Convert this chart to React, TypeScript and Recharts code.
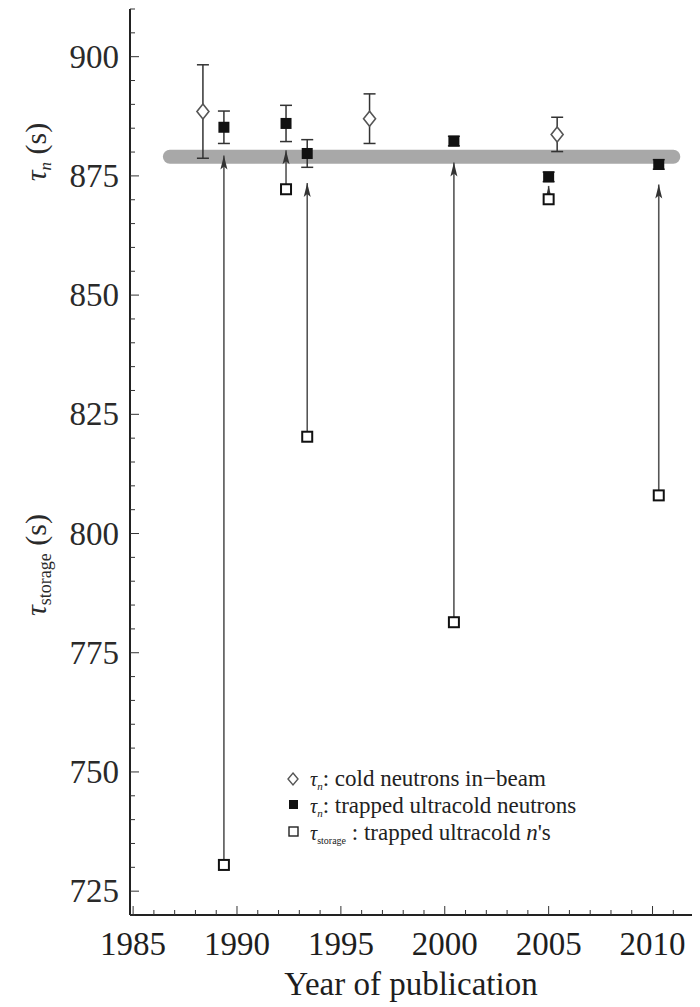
import React from "react";
import { ComposedChart, Scatter, Line, XAxis, YAxis, ErrorBar, Legend } from "recharts";

const FONT = '"Liberation Serif", "Times New Roman", Tinos, "DejaVu Serif", "Noto Serif", Times, serif';

// tick values
const yearTicks = [1985, 1986, 1987, 1988, 1989, 1990, 1991, 1992, 1993, 1994, 1995, 1996, 1997, 1998, 1999, 2000, 2001, 2002, 2003, 2004, 2005, 2006, 2007, 2008, 2009, 2010, 2011];
const yearLabels = [1985, 1990, 1995, 2000, 2005, 2010];
const tauTicks = [720, 725, 730, 735, 740, 745, 750, 755, 760, 765, 770, 775, 780, 785, 790, 795, 800, 805, 810, 815, 820, 825, 830, 835, 840, 845, 850, 855, 860, 865, 870, 875, 880, 885, 890, 895, 900, 905, 910];
const tauLabels = [725, 750, 775, 800, 825, 850, 875, 900];

// cold neutrons in-beam
const beamYears = [1988.36, 1996.38, 2005.41];
const beamTau = [888.5, 887.0, 883.7];
const beamErr = [9.8, 5.2, 3.6];

// trapped ultracold neutrons
const trapYears = [1989.37, 1992.36, 1993.38, 2000.44, 2005.0, 2010.3];
const trapTau = [885.2, 886.0, 879.7, 882.3, 874.8, 877.4];
const trapErr = [3.4, 3.8, 2.9, 1.0, 1.0, 1.0];

// storage lifetimes (same years as trapped)
const storageTau = [730.5, 872.2, 820.3, 781.4, 870.1, 808.0];
const arrowTipTau = [879.3, 880.4, 873.5, 877.8, 872.9, 873.2];

// world-average band
const bandYears = [1986.77, 2011.0];
const bandTau = 879.0;

const X_DOMAIN = [1984.85, 2011.9];
const Y_DOMAIN = [720, 910];

const beamData = beamYears.map((x, i) => ({ x, y: beamTau[i], err: beamErr[i] }));
const trapData = trapYears.map((x, i) => ({ x, y: trapTau[i], err: trapErr[i] }));
const storageData = trapYears.map((x, i) => ({ x, y: storageTau[i] }));
const tipData = trapYears.map((x, i) => ({ x, y: arrowTipTau[i] }));
const bandData = bandYears.map((x) => ({ x, y: bandTau }));

const serif = { fontFamily: FONT };

const DiamondShape = (p: any) => {
  const { cx, cy } = p;
  if (cx == null || cy == null) return null;
  return (
    <path
      d={`M${cx},${cy - 7.5} L${cx + 6},${cy} L${cx},${cy + 7.5} L${cx - 6},${cy} Z`}
      fill="#fff"
      stroke="#555"
      strokeWidth={1.6}
    />
  );
};

const FilledSquare = (p: any) => {
  const { cx, cy } = p;
  if (cx == null || cy == null) return null;
  return <rect x={cx - 5.5} y={cy - 5.5} width={11} height={11} fill="#111" />;
};

const OpenSquare = (p: any) => {
  const { cx, cy } = p;
  if (cx == null || cy == null) return null;
  return <rect x={cx - 5} y={cy - 5} width={10} height={10} fill="#fff" stroke="#111" strokeWidth={2} />;
};

const ArrowHead = (p: any) => {
  const { cx, cy } = p;
  if (cx == null || cy == null) return null;
  return <path d={`M${cx},${cy} L${cx + 3.5},${cy + 14} L${cx},${cy + 11} L${cx - 3.5},${cy + 14} Z`} fill="#333" />;
};

const BottomTick = (p: any) => {
  const { x, y, payload } = p;
  const v = payload.value;
  const major = yearLabels.includes(v);
  return (
    <g>
      <line x1={x} x2={x} y1={y} y2={y - (major ? 9 : 5)} stroke="#333" strokeWidth={1} />
      {major ? (
        <text x={x} y={y + 40} textAnchor="middle" style={serif} fontSize={33} fill="#1e1e1e">
          {v}
        </text>
      ) : null}
    </g>
  );
};

const TopTick = (p: any) => {
  const { x, y, payload } = p;
  const major = yearLabels.includes(payload.value);
  return <line x1={x} x2={x} y1={y} y2={y + (major ? 9 : 5)} stroke="#333" strokeWidth={1} />;
};

const LeftTick = (p: any) => {
  const { x, y, payload } = p;
  const v = payload.value;
  const major = tauLabels.includes(v);
  return (
    <g>
      <line x1={x} x2={x + (major ? 9 : 5)} y1={y} y2={y} stroke="#333" strokeWidth={1} />
      {major ? (
        <text x={x - 11} y={y + 11} textAnchor="end" style={serif} fontSize={33} fill="#2a2a2a">
          {v}
        </text>
      ) : null}
    </g>
  );
};

const RightTick = (p: any) => {
  const { x, y, payload } = p;
  const major = tauLabels.includes(payload.value);
  return <line x1={x} x2={x - (major ? 9 : 5)} y1={y} y2={y} stroke="#333" strokeWidth={1} />;
};

const XTitle = () => (
  <text x={411} y={995} textAnchor="middle" style={serif} fontSize={33} fill="#1e1e1e">
    Year of publication
  </text>
);

const YTitles = () => (
  <g style={serif} fill="#2a2a2a">
    <text x={46} y={152} transform="rotate(-90, 46, 152)" textAnchor="middle" fontSize={30}>
      <tspan fontStyle="italic">τ</tspan>
      <tspan fontStyle="italic" fontSize={17} dy={5}>n</tspan>
      <tspan dy={-5}> (s)</tspan>
    </text>
    <text x={46} y={565} transform="rotate(-90, 46, 565)" textAnchor="middle" fontSize={30}>
      <tspan fontStyle="italic">τ</tspan>
      <tspan fontSize={18} dy={5}>storage</tspan>
      <tspan dy={-5}> (s)</tspan>
    </text>
  </g>
);

const LegendContent = () => (
  <svg width={420} height={92} style={{ display: "block" }}>
    <g style={serif} fill="#222" fontSize={23}>
      <path d="M23,9 L28,15 L23,21 L18,15 Z" fill="#fff" stroke="#555" strokeWidth={1.4} />
      <text x={40} y={22}>
        <tspan fontStyle="italic" fontSize={20}>τ</tspan>
        <tspan fontStyle="italic" fontSize={11} dy={4}>n</tspan>
        <tspan dy={-4}>: cold neutrons in−beam</tspan>
      </text>
      <rect x={19} y={36} width={9} height={9} fill="#111" />
      <text x={40} y={49}>
        <tspan fontStyle="italic" fontSize={20}>τ</tspan>
        <tspan fontStyle="italic" fontSize={11} dy={4}>n</tspan>
        <tspan dy={-4}>: trapped ultracold neutrons</tspan>
      </text>
      <rect x={19} y={63} width={9} height={9} fill="#fff" stroke="#222" strokeWidth={1.4} />
      <text x={40} y={76}>
        <tspan fontStyle="italic" fontSize={20}>τ</tspan>
        <tspan fontSize={10} dy={4}>storage</tspan>
        <tspan dy={-4}> : trapped ultracold </tspan>
        <tspan fontStyle="italic">n</tspan>
        <tspan>'s</tspan>
      </text>
    </g>
  </svg>
);

export default function App() {
  return (
    <div style={{ position: "absolute", left: 0, top: 0, width: 700, height: 1007, background: "#fff" }}>
      <ComposedChart width={700} height={1007} margin={{ top: 9, right: 8, bottom: 0, left: 0 }}>
        <XAxis
          xAxisId={0}
          dataKey="x"
          type="number"
          orientation="bottom"
          domain={X_DOMAIN}
          allowDataOverflow
          ticks={yearTicks}
          interval={0}
          height={92}
          tickSize={0}
          tickMargin={0}
          tick={<BottomTick />}
          axisLine={{ stroke: "#222", strokeWidth: 2 }}
          tickLine={false}
          label={XTitle}
        />
        <XAxis
          xAxisId="top"
          dataKey="x"
          type="number"
          orientation="top"
          domain={X_DOMAIN}
          allowDataOverflow
          ticks={yearTicks}
          interval={0}
          height={0}
          tickSize={0}
          tickMargin={0}
          tick={<TopTick />}
          axisLine={{ stroke: "#222", strokeWidth: 2 }}
          tickLine={false}
        />
        <YAxis
          yAxisId={0}
          dataKey="y"
          type="number"
          orientation="left"
          domain={Y_DOMAIN}
          allowDataOverflow
          ticks={tauTicks}
          interval={0}
          width={130}
          tickSize={0}
          tickMargin={0}
          tick={<LeftTick />}
          axisLine={{ stroke: "#222", strokeWidth: 2 }}
          tickLine={false}
          label={YTitles}
        />
        <YAxis
          yAxisId="right"
          dataKey="y"
          type="number"
          orientation="right"
          domain={Y_DOMAIN}
          allowDataOverflow
          ticks={tauTicks}
          interval={0}
          width={0}
          tickSize={0}
          tickMargin={0}
          tick={<RightTick />}
          axisLine={{ stroke: "#222", strokeWidth: 2 }}
          tickLine={false}
        />
        <Line
          data={bandData}
          dataKey="y"
          stroke="#a8a8a8"
          strokeWidth={14}
          strokeLinecap="round"
          dot={false}
          activeDot={false}
          isAnimationActive={false}
        />
        {trapYears.map((yr, i) => (
          <Line
            key={`arrow-${i}`}
            data={[
              { x: yr, y: storageTau[i] },
              { x: yr, y: arrowTipTau[i] },
            ]}
            dataKey="y"
            stroke="#555"
            strokeWidth={1.6}
            dot={false}
            activeDot={false}
            isAnimationActive={false}
          />
        ))}
        <Scatter data={tipData} shape={ArrowHead} isAnimationActive={false} />
        <Scatter data={storageData} shape={OpenSquare} isAnimationActive={false} />
        <Scatter data={beamData} shape={DiamondShape} isAnimationActive={false}>
          <ErrorBar dataKey="err" direction="y" width={6} stroke="#333" strokeWidth={1.5} />
        </Scatter>
        <Scatter data={trapData} shape={FilledSquare} isAnimationActive={false}>
          <ErrorBar dataKey="err" direction="y" width={6} stroke="#333" strokeWidth={1.5} />
        </Scatter>
        <Legend
          layout="vertical"
          align="center"
          verticalAlign="middle"
          wrapperStyle={{ left: 270, top: 764, width: 420, height: 92 }}
          content={LegendContent}
        />
      </ComposedChart>
    </div>
  );
}
